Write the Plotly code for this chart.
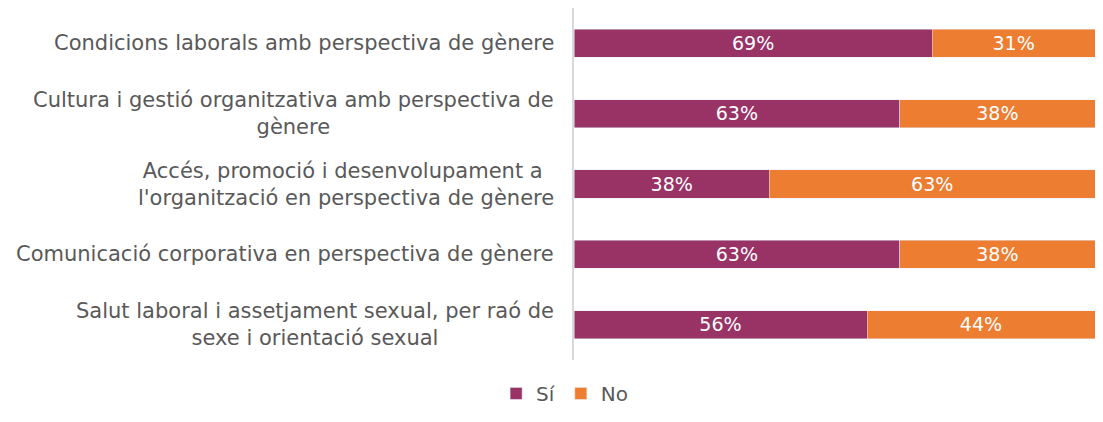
import plotly.graph_objects as go

categories = [
    "Condicions laborals amb perspectiva de gènere",
    "Cultura i gestió organitzativa amb perspectiva de<br>gènere",
    "Accés, promoció i desenvolupament a <br>l'organització en perspectiva de gènere",
    "Comunicació corporativa en perspectiva de gènere",
    "Salut laboral i assetjament sexual, per raó de<br>sexe i orientació sexual",
]
si_values = [68.75, 62.5, 37.5, 62.5, 56.25]
no_values = [31.25, 37.5, 62.5, 37.5, 43.75]

font_family = "DejaVu Sans, Verdana, sans-serif"

fig = go.Figure()
fig.add_trace(go.Bar(
    y=categories, x=si_values, name="Sí", orientation="h",
    marker_color="#993366",
    texttemplate="%{x:.0f}%", textposition="inside", insidetextanchor="middle",
    textfont=dict(color="white", size=21.5, family=font_family),
))
fig.add_trace(go.Bar(
    y=categories, x=no_values, name="No", orientation="h",
    marker_color="#ED7D31",
    texttemplate="%{x:.0f}%", textposition="inside", insidetextanchor="middle",
    textfont=dict(color="white", size=21.5, family=font_family),
))

# category labels as annotations so wrapped lines are centred like the original
for cat in categories:
    fig.add_annotation(
        x=0, xref="paper", y=cat, yref="y",
        text=cat, showarrow=False, xanchor="right", align="center",
        xshift=-18, font=dict(size=21, color="#595959", family=font_family),
    )

# page body has an 8px margin, so keep the figure small enough to avoid scrollbars
fig.update_layout(
    barmode="stack",
    bargap=0.6,
    width=1087,
    height=406,
    margin=dict(l=566, r=0, t=0, b=54),
    plot_bgcolor="white",
    paper_bgcolor="white",
    font=dict(family=font_family, color="#595959", size=20),
    legend=dict(
        orientation="h", x=-0.018, xanchor="center", y=-0.095, yanchor="middle",
        font=dict(size=20, color="#595959"), itemwidth=30, traceorder="normal",
    ),
)
fig.update_xaxes(range=[0, 100], showgrid=False, showticklabels=False, zeroline=False)
fig.update_yaxes(
    autorange="reversed", showticklabels=False, showgrid=False,
    showline=True, linecolor="#d9d9d9", linewidth=2, ticks="",
)

fig.write_html("out.html")
